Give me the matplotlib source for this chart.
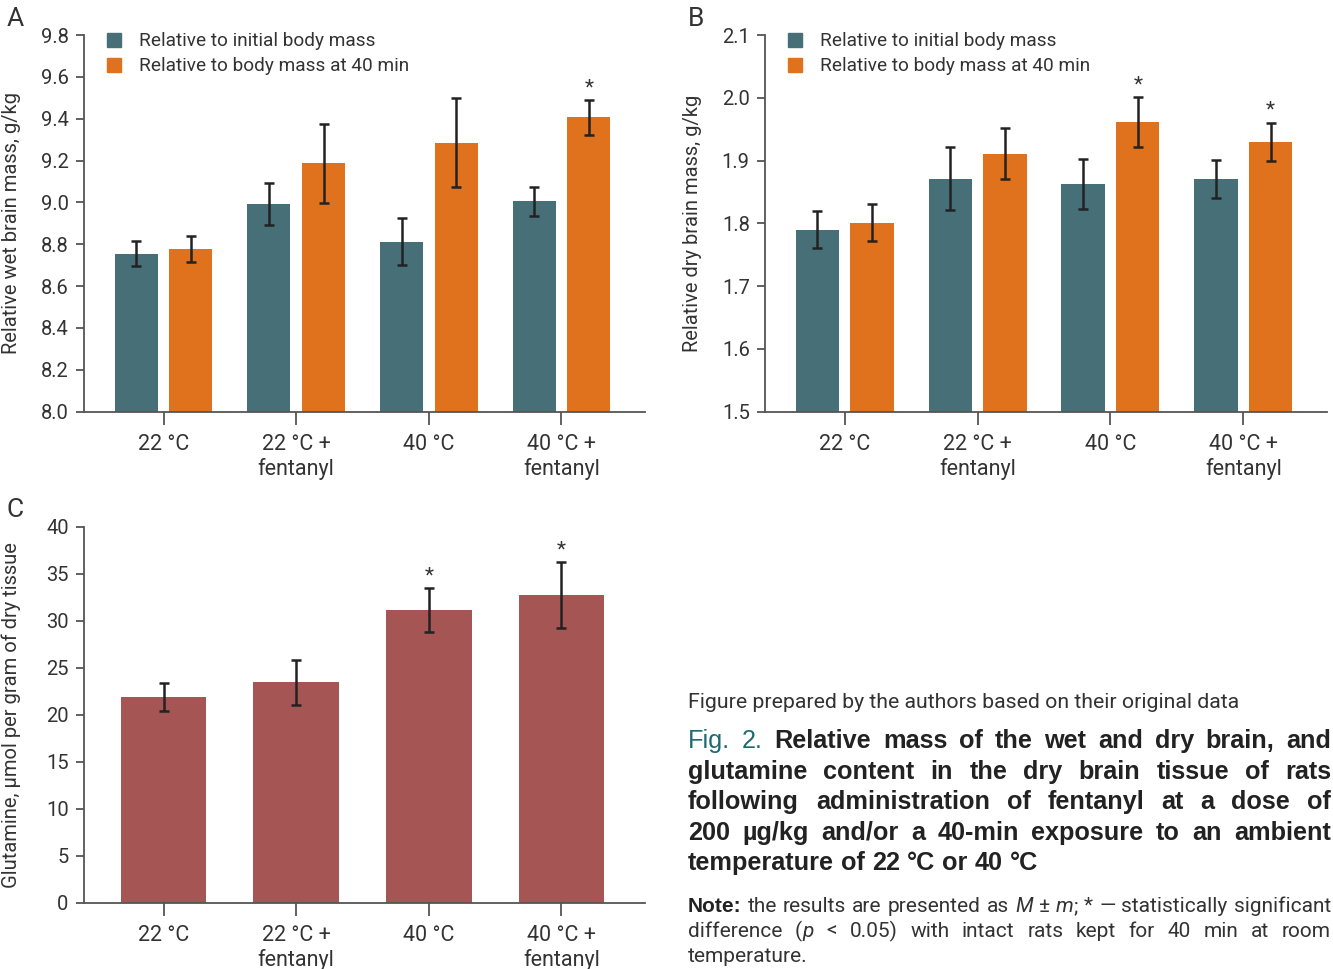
import numpy as np
import matplotlib
matplotlib.use('Agg')
import matplotlib.pyplot as plt
from matplotlib.lines import Line2D

W, H = 1333, 969

groups = ['22 °C', '22 °C +\nfentanyl', '40 °C', '40 °C +\nfentanyl']

# A: relative wet brain mass, g/kg
wet_initial = [8.755, 8.994, 8.812, 9.004]
wet_initial_err = [0.06, 0.10, 0.112, 0.071]
wet_40min = [8.779, 9.186, 9.285, 9.406]
wet_40min_err = [0.062, 0.19, 0.212, 0.082]
wet_initial_sig = [False, False, False, False]
wet_40min_sig = [False, False, False, True]

# B: relative dry brain mass, g/kg
dry_initial = [1.79, 1.871, 1.862, 1.871]
dry_initial_err = [0.03, 0.05, 0.04, 0.03]
dry_40min = [1.801, 1.911, 1.961, 1.93]
dry_40min_err = [0.03, 0.04, 0.04, 0.03]
dry_initial_sig = [False, False, False, False]
dry_40min_sig = [False, False, True, True]

# C: glutamine, umol per gram of dry tissue
glutamine = [21.88, 23.48, 31.13, 32.73]
glutamine_err = [1.45, 2.4, 2.35, 3.5]
glutamine_sig = [False, False, True, True]

series_names = ['Relative to initial body mass', 'Relative to body mass at 40 min']

TEAL = '#466f78'
ORANGE = '#e0721e'
BROWN = '#a55553'
INK = '#333333'
ERR = '#222222'
SPINE = '#555555'
FIGBLUE = '#1d6b70'

plt.rcParams['font.family'] = ['Roboto', 'DejaVu Sans']
plt.rcParams['font.weight'] = 'normal'
plt.rcParams['text.color'] = INK
plt.rcParams['axes.labelcolor'] = INK
plt.rcParams['xtick.color'] = SPINE
plt.rcParams['ytick.color'] = SPINE
plt.rcParams['xtick.labelcolor'] = INK
plt.rcParams['ytick.labelcolor'] = INK

fig = plt.figure(figsize=(W / 100, H / 100), dpi=100)


def frac(x, y):
    return x / W, 1 - y / H


def make_axes(left, top, right, bottom):
    l, t = frac(left, top)
    r, b = frac(right, bottom)
    ax = fig.add_axes([l, b, r - l, t - b])
    ax.spines[['top', 'right']].set_visible(False)
    for s in ('left', 'bottom'):
        ax.spines[s].set_color(SPINE)
        ax.spines[s].set_linewidth(1.3)
    ax.tick_params(axis='y', length=6, width=1.3, labelsize=14.5, pad=5)
    ax.tick_params(axis='x', length=9, width=1.3, labelsize=15.5, pad=7)
    ax.set_xlim(-0.6, 3.63)
    ax.set_xticks(range(len(groups)), groups, linespacing=1.2)
    return ax


def add_stars(ax, x, tops, sig):
    for xi, t, s in zip(x, tops, sig):
        if s:
            ax.annotate('*', (xi, t), xytext=(0, 5), textcoords='offset points',
                        ha='center', va='baseline', fontsize=15, color=INK)


def pair_panel(ax, first, first_err, second, second_err, first_sig, second_sig,
               ylim, yticks, fmt, ylabel):
    x = np.arange(len(groups))
    off, w = 0.206, 0.325
    ax.bar(x - off, first, w, color=TEAL, zorder=2)
    ax.bar(x + off, second, w, color=ORANGE, zorder=2)
    for xs, v, e in ((x - off, first, first_err), (x + off, second, second_err)):
        ax.errorbar(xs, v, yerr=e, fmt='none', ecolor=ERR, elinewidth=1.8,
                    capsize=3.5, capthick=1.8, zorder=3)
    add_stars(ax, x - off, np.add(first, first_err), first_sig)
    add_stars(ax, x + off, np.add(second, second_err), second_sig)
    ax.set_ylim(*ylim)
    ax.set_yticks(yticks, [fmt.format(t) for t in yticks])
    ax.set_ylabel(ylabel, fontsize=14.5)
    ax.yaxis.set_label_coords(-0.112, 0.5)
    handles = [Line2D([], [], ls='none', marker='s', markersize=9.5, color=c) for c in (TEAL, ORANGE)]
    ax.legend(handles, series_names, loc='upper left', bbox_to_anchor=(0.037, 1.007),
              frameon=False, fontsize=13.7, handlelength=1.0, handletextpad=0.8,
              labelspacing=0.36, borderpad=0, borderaxespad=0)


axA = make_axes(84, 35, 645, 411.5)
pair_panel(axA, wet_initial, wet_initial_err, wet_40min, wet_40min_err,
           wet_initial_sig, wet_40min_sig, (8.0, 9.8), np.arange(8.0, 9.81, 0.2),
           '{:.1f}', 'Relative wet brain mass, g/kg')

axB = make_axes(765, 35, 1327, 411.5)
pair_panel(axB, dry_initial, dry_initial_err, dry_40min, dry_40min_err,
           dry_initial_sig, dry_40min_sig, (1.5, 2.1), np.arange(1.5, 2.11, 0.1),
           '{:.1f}', 'Relative dry brain mass, g/kg')

axC = make_axes(84, 527, 645, 902.5)
xc = np.arange(len(groups))
axC.bar(xc, glutamine, 0.645, color=BROWN, zorder=2)
axC.errorbar(xc, glutamine, yerr=glutamine_err, fmt='none', ecolor=ERR, elinewidth=1.8,
             capsize=3.5, capthick=1.8, zorder=3)
add_stars(axC, xc, np.add(glutamine, glutamine_err), glutamine_sig)
axC.set_ylim(0, 40)
axC.set_yticks(range(0, 41, 5))
axC.set_ylabel('Glutamine, µmol per gram of dry tissue', fontsize=14.5)
axC.yaxis.set_label_coords(-0.112, 0.5)

for letter, (px, py) in zip('ABC', [(7, 19), (688, 19), (7, 510)]):
    fig.text(*frac(px, py), letter, fontsize=19, va='center', ha='left')

# caption block on the lower right, justified line by line
renderer = fig.canvas.get_renderer()
SANS = ['Liberation Sans', 'DejaVu Sans']
REG = dict(fontweight='normal', color=INK)
BOLD = dict(fontweight='bold', color='#222222', family=SANS)
FIG = dict(fontweight='normal', color=FIGBLUE, family=SANS)
NOTE_B = dict(fontweight='bold', color='#222222', family=SANS)
ITAL = dict(fontweight='normal', style='italic', color=INK)


def words(text, style):
    return [[(wd, style)] for wd in text.split()]


def place_line(line, x0, x1, y, size, justify):
    # measure each word made of one or more styled pieces
    pieces = []
    widths = []
    for word in line:
        ts = []
        wsum = 0
        for txt, st in word:
            t = fig.text(0, 0, txt, fontsize=size, va='baseline', ha='left', **st)
            wpx = t.get_window_extent(renderer).width
            ts.append((t, wpx))
            wsum += wpx
        pieces.append(ts)
        widths.append(wsum)
    space = fig.text(0, 0, 'a a', fontsize=size, **line[-1][0][1])
    sw = space.get_window_extent(renderer).width
    space.set_text('aa')
    sw -= space.get_window_extent(renderer).width
    space.remove()
    if justify and len(line) > 1:
        gap = (x1 - x0 - sum(widths)) / (len(line) - 1)
    else:
        gap = sw
    x = x0
    for ts, wsum in zip(pieces, widths):
        xx = x
        for t, wpx in ts:
            t.set_position(frac(xx, y))
            xx += wpx
        x += wsum + gap


fig.text(*frac(688, 708), 'Figure prepared by the authors based on their original data',
         fontsize=15.3, va='baseline', ha='left', **REG)

title_lines = [
    words('Fig. 2.', FIG) + words('Relative mass of the wet and dry brain, and', BOLD),
    words('glutamine content in the dry brain tissue of rats', BOLD),
    words('following administration of fentanyl at a dose of', BOLD),
    words('200 µg/kg and/or a 40-min exposure to an ambient', BOLD),
    words('temperature of 22 °C or 40 °C', BOLD),
]
for i, line in enumerate(title_lines):
    place_line(line, 688, 1331, 748 + i * 30.6, 18.2, i < len(title_lines) - 1)

note_lines = [
    words('Note:', NOTE_B) + words('the results are presented as', REG)
    + [[('M', ITAL)], [('±', REG)], [('m', ITAL), (';', REG)], [('*', REG)], [('—', REG)]]
    + words('statistically significant', REG),
    words('difference', REG) + [[('(', REG), ('p', ITAL)]]
    + words('< 0.05) with intact rats kept for 40 min at room', REG),
    words('temperature.', REG),
]
for i, line in enumerate(note_lines):
    place_line(line, 688, 1331, 912 + i * 25, 15, i < len(note_lines) - 1)

fig.savefig('out.png', dpi=100)
